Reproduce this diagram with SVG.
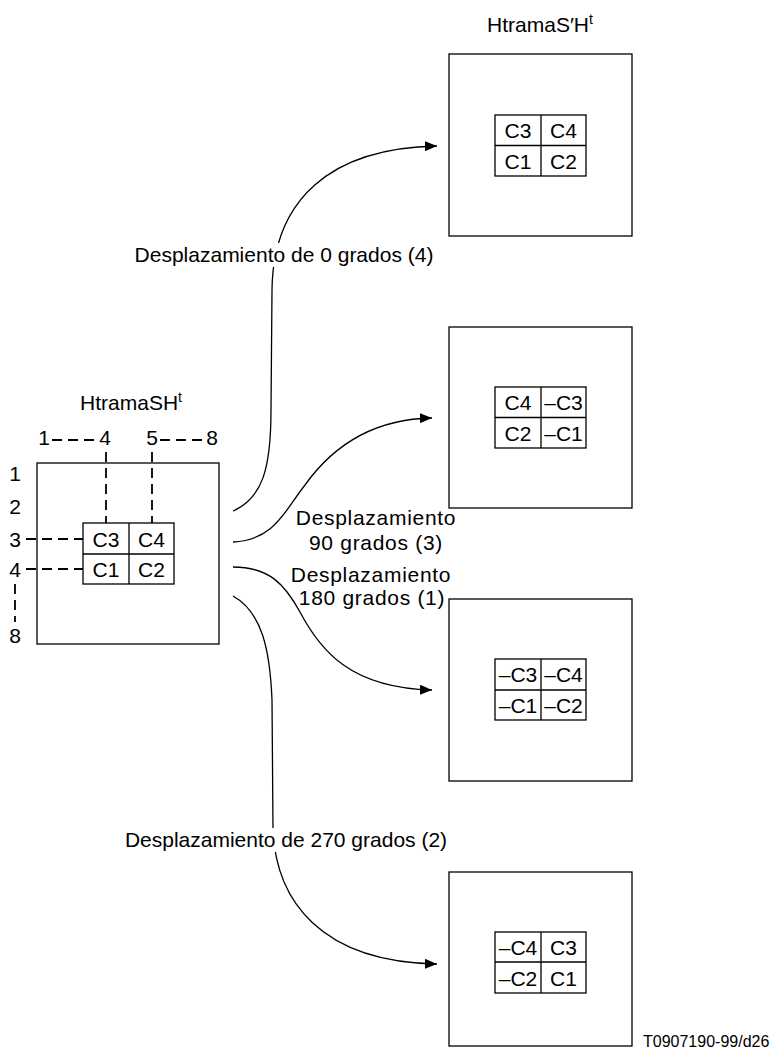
<svg xmlns="http://www.w3.org/2000/svg" width="773" height="1054" viewBox="0 0 773 1054">
<style>
text{font-family:"Liberation Sans",Arial,sans-serif;font-size:21px;fill:#000}
.c{text-anchor:middle}
.box{fill:none;stroke:#000;stroke-width:1.3}
.grid{fill:#fff;stroke:#000;stroke-width:1.3}
.dash{fill:none;stroke:#000;stroke-width:1.8;stroke-dasharray:10 6}
.conn{fill:none;stroke:#000;stroke-width:1.3}
.sp{letter-spacing:0.7px}
.sup{font-size:14px}
.small{font-size:16px}
</style>
<defs>
<marker id="ah" viewBox="0 0 12 10" refX="12" refY="5" markerWidth="12" markerHeight="10" markerUnits="userSpaceOnUse" orient="auto">
<path d="M0,0 L12,5 L0,10 Z" fill="#000"/>
</marker>
</defs>

<g id="connectors">
<path class="conn" d="M233,511 C262,498 271,470 271,410 L272,290 C273,200 330,148 437,146" marker-end="url(#ah)"/>
<path class="conn" d="M233,542 C275,540 285,510 305,485 C330,450 370,419 432,418" marker-end="url(#ah)"/>
<path class="conn" d="M233,567 C270,567 285,585 300,612 C320,650 350,688 432,690" marker-end="url(#ah)"/>
<path class="conn" d="M233,596 C262,612 270,650 272,700 L273,830 C276,900 320,962 437,964" marker-end="url(#ah)"/>
</g>

<g id="label-0">
<rect x="130" y="243" width="308" height="24" fill="#fff"/>
<text x="284" y="262" class="c">Desplazamiento de 0 grados (4)</text>
</g>
<g id="label-90">
<text x="376" y="525" class="c sp">Desplazamiento</text>
<text x="376" y="550" class="c sp">90 grados (3)</text>
</g>
<g id="label-180">
<text x="371" y="582" class="c sp">Desplazamiento</text>
<text x="372" y="605" class="c sp">180 grados (1)</text>
</g>
<g id="label-270">
<rect x="122" y="828" width="328" height="24" fill="#fff"/>
<text x="286" y="847" class="c">Desplazamiento de 270 grados (2)</text>
</g>

<g id="source">
<text x="131" y="410" class="c">HtramaSH<tspan class="sup" dy="-8">t</tspan></text>
<text x="44" y="445" class="c">1</text>
<text x="105" y="445" class="c">4</text>
<text x="152" y="445" class="c">5</text>
<text x="212" y="445" class="c">8</text>
<path class="dash" d="M52,440 H98 M160,440 H206"/>
<text x="15" y="481" class="c">1</text>
<text x="15" y="514" class="c">2</text>
<text x="15" y="547" class="c">3</text>
<text x="15" y="577" class="c">4</text>
<text x="15" y="643" class="c">8</text>
<rect class="box" x="37" y="463" width="182" height="181"/>
<path class="dash" d="M106,452 V523 M152,452 V523 M26,539 H83 M26,569 H83 M15,584 V622"/>
<rect class="grid" x="83" y="523" width="91" height="61"/>
<path class="conn" d="M129,523 V584 M83,554 H174"/>
<text x="106" y="547" class="c">C3</text>
<text x="151.5" y="547" class="c">C4</text>
<text x="106" y="577" class="c">C1</text>
<text x="151.5" y="577" class="c">C2</text>
</g>

<g id="target-0">
<text x="540" y="32" class="c">HtramaS′H<tspan class="sup" dy="-8">t</tspan></text>
<rect class="box" x="449" y="54" width="183" height="182"/>
<rect class="grid" x="495" y="115" width="91" height="61"/>
<path class="conn" d="M541,115 V176 M495,145.5 H586"/>
<text x="518" y="138" class="c">C3</text>
<text x="563.5" y="138" class="c">C4</text>
<text x="518" y="169" class="c">C1</text>
<text x="563.5" y="169" class="c">C2</text>
</g>

<g id="target-90">
<rect class="box" x="449" y="327" width="183" height="181"/>
<rect class="grid" x="495" y="387" width="91" height="61"/>
<path class="conn" d="M541,387 V448 M495,417.5 H586"/>
<text x="518" y="410" class="c">C4</text>
<text x="563.5" y="410" class="c">–C3</text>
<text x="518" y="441" class="c">C2</text>
<text x="563.5" y="441" class="c">–C1</text>
</g>

<g id="target-180">
<rect class="box" x="449" y="599" width="183" height="182"/>
<rect class="grid" x="495" y="659" width="91" height="61"/>
<path class="conn" d="M541,659 V720 M495,690 H586"/>
<text x="518" y="682" class="c">–C3</text>
<text x="563.5" y="682" class="c">–C4</text>
<text x="518" y="713" class="c">–C1</text>
<text x="563.5" y="713" class="c">–C2</text>
</g>

<g id="target-270">
<rect class="box" x="449" y="872" width="183" height="174"/>
<rect class="grid" x="495" y="932" width="91" height="61"/>
<path class="conn" d="M541,932 V993 M495,962 H586"/>
<text x="518" y="955" class="c">–C4</text>
<text x="563.5" y="955" class="c">C3</text>
<text x="518" y="986" class="c">–C2</text>
<text x="563.5" y="986" class="c">C1</text>
</g>

<text x="643" y="1047" class="small">T0907190-99/d26</text>
</svg>
